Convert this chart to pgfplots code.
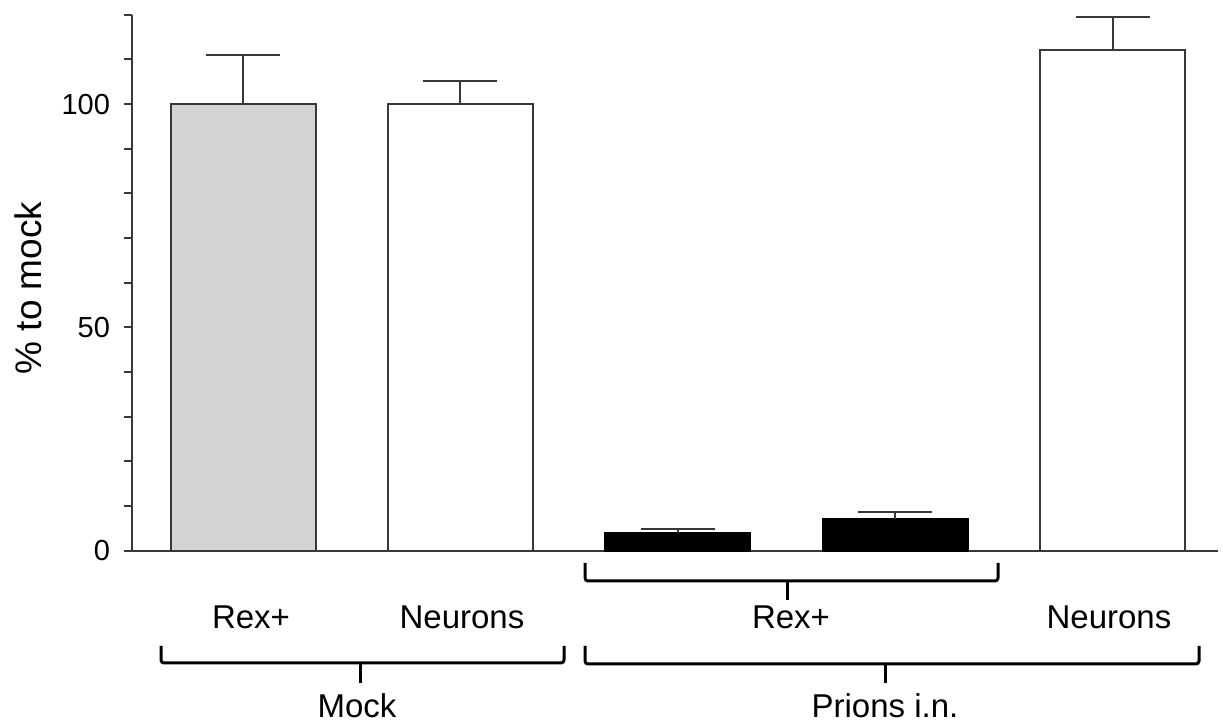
\documentclass[border=0pt]{standalone}
\usepackage{pgfplots}
\pgfplotsset{compat=1.18}
\usepackage{fontspec}
\setmainfont{Liberation Sans}
\definecolor{barline}{HTML}{383838}
\definecolor{barfill}{HTML}{D3D3D3}
\pgfplotsset{
  errbar/.style={
    error bars/.cd, y dir=plus, y explicit, error mark=|,
    error mark options={mark size=18.5pt, line width=1pt, barline},
    error bar style={line width=1pt, barline}},
}
\begin{document}
\begin{tikzpicture}
\useasboundingbox (0,0) rectangle (611.5pt,362pt);
\begin{axis}[
  at={(66pt,86.65pt)}, anchor=south west,
  scale only axis, width=543pt, height=268pt,
  xmin=-0.511, xmax=4.485, ymin=0, ymax=120,
  axis x line=bottom, axis y line=left,
  axis line style={-, color=barline, line width=1pt},
  x axis line style={shorten <=-4pt},
  xtick=\empty,
  ytick={0,50,100},
  minor ytick={10,20,30,40,60,70,80,90,110,120},
  tick align=outside,
  major tick length=4pt, minor tick length=4pt,
  tick style={color=barline, line width=1pt},
  yticklabel style={font=\fontsize{14.5}{17}\selectfont, xshift=-3.5pt},
  /pgf/number format/assume math mode=true,
  clip=false,
  ylabel={\% to mock},
  every axis y label/.style={at={(axis description cs:-0.0958,0.49)}, rotate=90, anchor=center, font=\fontsize{18.5}{21}\selectfont},
]
\addplot[ybar, bar width=72.5pt, bar shift=0pt, fill=barfill, draw=barline, line width=1pt, errbar]
  coordinates {(0,100) +- (0,11)};
\addplot[ybar, bar width=72.5pt, bar shift=0pt, fill=white, draw=barline, line width=1pt, errbar]
  coordinates {(1,100) +- (0,5.1)};
\addplot[ybar, bar width=72.5pt, bar shift=0pt, fill=black, draw=black, line width=1pt, errbar]
  coordinates {(2,3.9) +- (0,0.95)};
\addplot[ybar, bar width=72.5pt, bar shift=0pt, fill=black, draw=black, line width=1pt, errbar]
  coordinates {(3,7.0) +- (0,1.7)};
\addplot[ybar, bar width=72.5pt, bar shift=0pt, fill=white, draw=barline, line width=1pt, errbar]
  coordinates {(4,112) +- (0,7.5)};
\end{axis}
\begin{scope}[x=0.5pt, y=-0.5pt, yshift=362pt]
  \draw[line width=1.5pt, rounded corners=1.5pt] (161,646) -- (161,663) -- (564,663) -- (564,646);
  \draw[line width=1.5pt] (360,663) -- (360,683);
  \draw[line width=1.5pt, rounded corners=1.5pt] (585,563) -- (585,581) -- (998,581) -- (998,563);
  \draw[line width=1.5pt] (787,581) -- (787,600);
  \draw[line width=1.5pt, rounded corners=1.5pt] (585,646) -- (585,664) -- (1199,664) -- (1199,646);
  \draw[line width=1.5pt] (885,664) -- (885,683);
  \begin{scope}[every node/.style={anchor=base, inner sep=0pt, font=\fontsize{16.5}{19}\selectfont}]
    \node at (251,629) {Rex+};
    \node at (462,629) {Neurons};
    \node at (791,629) {Rex+};
    \node at (1109,629) {Neurons};
    \node at (357,718) {Mock};
    \node at (885,718) {Prions i.n.};
  \end{scope}
\end{scope}
\end{tikzpicture}
\end{document}
